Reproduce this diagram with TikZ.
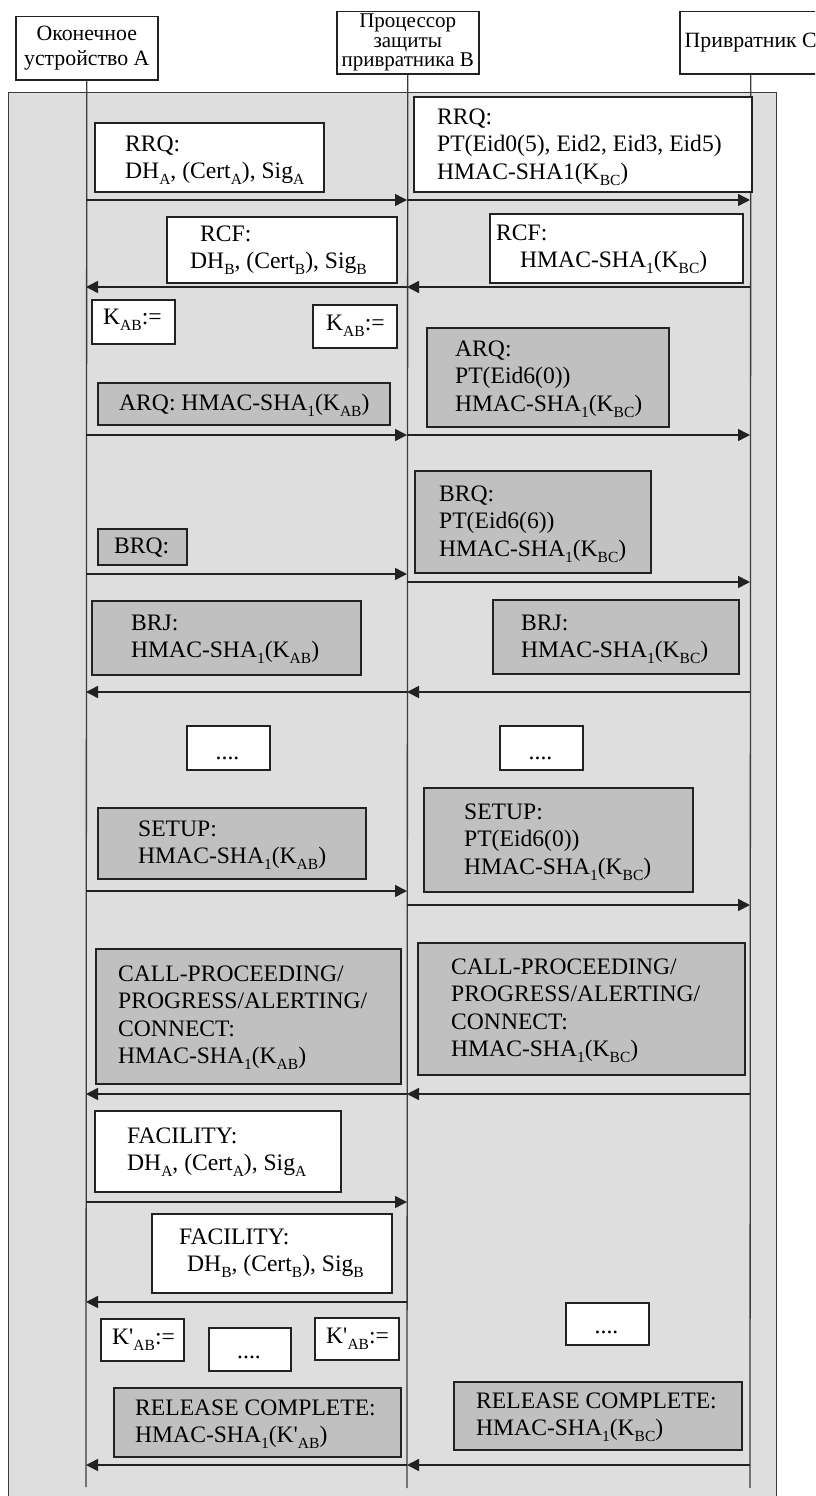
\documentclass[tikz,border=0pt]{standalone}
\usepackage{fontspec}
\setmainfont{Liberation Serif}
\usetikzlibrary{arrows.meta}
\definecolor{bggray}{RGB}{222,222,222}
\definecolor{boxgray}{RGB}{192,192,192}
\definecolor{ink}{RGB}{34,34,34}
\definecolor{lifec}{RGB}{60,60,60}
\newcommand\sbs[1]{\raisebox{-6pt}{\fontsize{15.5}{15.5}\selectfont #1}}
\newcommand\msgfont{\fontsize{23.6}{27.5}\selectfont}
\newcommand\hdfont{\fontsize{21.8}{25}\selectfont}
\newcommand\mb[6]{\node[#2, minimum width=#5pt, minimum height=#6pt, anchor=north west] (#1) at (#3,#4) {};}
\newcommand\mt[4]{\node[msgtxt, anchor=north west] (#1) at (#2,#3) {#4};}
\newcommand\mtb[4]{\node[msgtxt, anchor=base west] (#1) at (#2,#3) {#4};}
\newcommand\lc[2]{\coordinate (a#1) at (86,#1); \coordinate (b#1) at (407,#1); \coordinate (c#1) at (750,#1);}
\tikzset{
  wbox/.style={draw=ink, line width=1.5pt, fill=white, inner sep=0pt},
  gbox/.style={wbox, fill=boxgray},
  msgtxt/.style={inner sep=0pt, align=left, font=\msgfont, text=black},
  lifeline/.style={draw=lifec, line width=1.3pt},
  msgarrow/.style={draw=ink, line width=1.6pt, -{Triangle[length=12pt,width=12pt]}},
}
\begin{document}
\begin{tikzpicture}[x=1pt,y=-1pt]
\clip (0,0) rectangle (815,1496);
% background panel
\node[draw=lifec, line width=1.2pt, fill=bggray, inner sep=0pt, minimum width=768pt, minimum height=1406pt, anchor=north west] (bg) at (8,92) {};
% headers
\node[wbox, minimum width=142pt, minimum height=63pt, anchor=north west, font=\hdfont, align=center] (hA) at (15,16) {Оконечное\\устройство А};
\node[wbox, minimum width=142pt, minimum height=62pt, anchor=north west, font=\fontsize{21}{19.5}\selectfont, align=center] (hB) at (336,11) {Процессор\\защиты\\привратника В};
\node[wbox, minimum width=142pt, minimum height=62pt, anchor=north west, font=\hdfont, align=center] (hC) at (679,11) {Привратник С};
% lifelines
\coordinate (Aend) at (86,1487);
\coordinate (Bend) at (407,1488);
\coordinate (Cend) at (750,1488);
\draw[lifeline] (hA.south) -- (Aend);
\draw[lifeline] (hB.south) -- (Bend);
\draw[lifeline] (hC.south) -- (Cend);
% message boxes
\mb{rrqA}{wbox}{94}{122}{229}{69}
\mt{rrqAt}{125}{135.5}{RRQ:\\DH\sbs{A}, (Cert\sbs{A}), Sig\sbs{A}}
\mb{rrqB}{wbox}{413}{96}{338}{95}
\mt{rrqBt}{437}{108.5}{RRQ:\\PT(Eid0(5), Eid2, Eid3, Eid5)\\HMAC-SHA1(K\sbs{BC})}
\mb{rcfA}{wbox}{166}{216}{230}{66}
\mt{rcfAt}{190}{225.5}{\hspace*{10pt}RCF:\\DH\sbs{B}, (Cert\sbs{B}), Sig\sbs{B}}
\mb{rcfB}{wbox}{489}{213}{253}{69}
\mt{rcfBt}{496}{224.5}{RCF:\\\hspace*{24pt}HMAC-SHA\sbs{1}(K\sbs{BC})}
\mb{kA}{wbox}{91}{299}{83}{44}
\mtb{kAt}{103}{324.6}{K\sbs{AB}:=}
\mb{kB}{wbox}{312}{304}{84}{43}
\mtb{kBt}{326}{330.6}{K\sbs{AB}:=}
\mb{arqB}{gbox}{426}{327}{242}{99}
\mt{arqBt}{455}{340.4}{ARQ:\\PT(Eid6(0))\\HMAC-SHA\sbs{1}(K\sbs{BC})}
\mb{arqA}{gbox}{97}{382}{292}{42}
\mtb{arqAt}{119}{410.7}{ARQ: HMAC-SHA\sbs{1}(K\sbs{AB})}
\mb{brqB}{gbox}{414}{470}{236}{102}
\mt{brqBt}{439}{485.4}{BRQ:\\PT(Eid6(6))\\HMAC-SHA\sbs{1}(K\sbs{BC})}
\mb{brqA}{gbox}{97}{528}{89}{36}
\mtb{brqAt}{114}{553.6}{BRQ:}
\mb{brjA}{gbox}{91}{600}{269}{74}
\mt{brjAt}{131}{614.4}{BRJ:\\HMAC-SHA\sbs{1}(K\sbs{AB})}
\mb{brjB}{gbox}{492}{599}{246}{74}
\mt{brjBt}{521}{614.4}{BRJ:\\HMAC-SHA\sbs{1}(K\sbs{BC})}
\mb{dA}{wbox}{186}{725}{83}{44}
\node[msgtxt, anchor=base] (dAt) at (227.5,759) {....};
\mb{dB}{wbox}{499}{725}{83}{44}
\node[msgtxt, anchor=base] (dBt) at (540.5,759) {....};
\mb{setA}{gbox}{97}{807}{268}{71}
\mt{setAt}{138}{820.4}{SETUP:\\HMAC-SHA\sbs{1}(K\sbs{AB})}
\mb{setB}{gbox}{423}{787}{269}{104}
\mt{setBt}{464}{803.4}{SETUP:\\PT(Eid6(0))\\HMAC-SHA\sbs{1}(K\sbs{BC})}
\mb{callA}{gbox}{95}{948}{305}{135}
\mt{callAt}{118}{965.4}{CALL-PROCEEDING/\\PROGRESS/ALERTING/\\CONNECT:\\HMAC-SHA\sbs{1}(K\sbs{AB})}
\mb{callB}{gbox}{417}{942}{327}{132}
\mt{callBt}{451}{958.4}{CALL-PROCEEDING/\\PROGRESS/ALERTING/\\CONNECT:\\HMAC-SHA\sbs{1}(K\sbs{BC})}
\mb{facA}{wbox}{94}{1110}{246}{81}
\mt{facAt}{127}{1127.4}{FACILITY:\\DH\sbs{A}, (Cert\sbs{A}), Sig\sbs{A}}
\mb{facB}{wbox}{151}{1213}{240}{79}
\mt{facBt}{179}{1228.4}{FACILITY:\\\hspace*{8pt}DH\sbs{B}, (Cert\sbs{B}), Sig\sbs{B}}
\mb{kpA}{wbox}{100}{1318}{83}{42}
\mtb{kpAt}{112}{1344.6}{K\textquotesingle\sbs{AB}:=}
\mb{dC}{wbox}{208}{1327}{82}{43}
\node[msgtxt, anchor=base] (dCt) at (249,1358) {....};
\mb{kpB}{wbox}{314}{1317}{84}{42}
\mtb{kpBt}{326}{1343.6}{K\textquotesingle\sbs{AB}:=}
\mb{dD}{wbox}{565}{1302}{83}{42}
\node[msgtxt, anchor=base] (dDt) at (606.5,1333) {....};
\mb{relA}{gbox}{113}{1387}{287}{69}
\mt{relAt}{135}{1399.4}{RELEASE COMPLETE:\\HMAC-SHA\sbs{1}(K\textquotesingle\sbs{AB})}
\mb{relB}{gbox}{453}{1381}{288}{68}
\mt{relBt}{476}{1392.4}{RELEASE COMPLETE:\\HMAC-SHA\sbs{1}(K\sbs{BC})}
% arrow anchor points on lifelines
\lc{200}{} \lc{287}{} \lc{435}{} \lc{574}{} \lc{582}{} \lc{692}{}
\lc{891}{} \lc{905}{} \lc{1094}{} \lc{1202}{} \lc{1302}{} \lc{1465}{}
% messages
\draw[msgarrow] (a200) -- (b200);
\draw[msgarrow] (b200) -- (c200);
\draw[msgarrow] (c287) -- (b287);
\draw[msgarrow] (b287) -- (a287);
\draw[msgarrow] (a435) -- (b435);
\draw[msgarrow] (b435) -- (c435);
\draw[msgarrow] (a574) -- (b574);
\draw[msgarrow] (b582) -- (c582);
\draw[msgarrow] (c692) -- (b692);
\draw[msgarrow] (b692) -- (a692);
\draw[msgarrow] (a891) -- (b891);
\draw[msgarrow] (b905) -- (c905);
\draw[msgarrow] (c1094) -- (b1094);
\draw[msgarrow] (b1094) -- (a1094);
\draw[msgarrow] (a1202) -- (b1202);
\draw[msgarrow] (b1302) -- (a1302);
\draw[msgarrow] (c1465) -- (b1465);
\draw[msgarrow] (b1465) -- (a1465);
\end{tikzpicture}
\end{document}
